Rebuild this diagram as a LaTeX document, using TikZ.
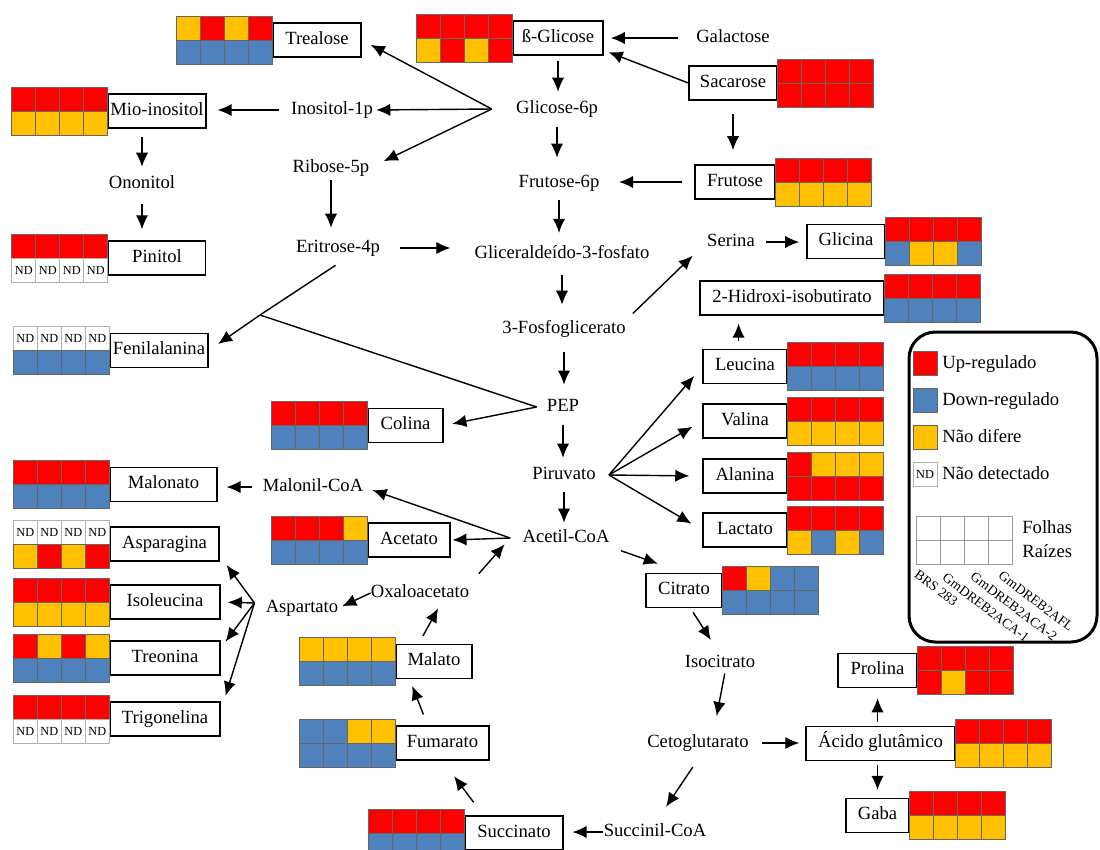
\documentclass[tikz,border=0pt]{standalone}
\usepackage{fontspec}
\setmainfont{Liberation Serif}
\usetikzlibrary{positioning,calc,arrows.meta}
\definecolor{upred}{RGB}{255,0,0}
\definecolor{downblue}{RGB}{79,129,189}
\definecolor{samegold}{RGB}{255,192,0}
\tikzset{met/.style={inner sep=0pt,text height=7.3pt,text depth=2.3pt,font=\fontsize{10.6}{12}\selectfont}}
\tikzset{box/.style={met,draw,line width=0.8pt,minimum height=6.8mm}}
\tikzset{boxw/.style={minimum width=#1*0.2mm}}
\tikzset{flow/.style={-{Latex[length=8pt,width=7pt]},line width=0.8pt}}
\tikzset{cell/.style={draw=black!60,line width=0.4pt,minimum width=4.8mm,minimum height=4.8mm,inner sep=0pt}}
\tikzset{R/.style={fill=upred},B/.style={fill=downblue},Y/.style={fill=samegold},
  N/.style={fill=white,draw=black!30,label={[font=\fontsize{7}{7}\selectfont,inner sep=0pt]center:ND}}}
\tikzset{geno/.style={inner sep=0pt,font=\fontsize{7.8}{9}\selectfont,rotate=-37,anchor=north west}}
\newcommand{\cellsleft}[2]{%
  \foreach \c [count=\i from 0] in {#2}{%
    \pgfmathtruncatemacro{\hmcol}{mod(\i,4)}%
    \pgfmathtruncatemacro{\hmrow}{\i/4}%
    \node[cell,\c] (#1-c\i) at ($(#1.west)+(\hmcol*24-84,\hmrow*24-12)$) {};
  }}
\newcommand{\cellsright}[2]{%
  \foreach \c [count=\i from 0] in {#2}{%
    \pgfmathtruncatemacro{\hmcol}{mod(\i,4)}%
    \pgfmathtruncatemacro{\hmrow}{\i/4}%
    \node[cell,\c] (#1-c\i) at ($(#1.east)+(\hmcol*24+12,\hmrow*24-12)$) {};
  }}

\begin{document}
\begin{tikzpicture}[x=0.2mm,y=-0.2mm]
\useasboundingbox (0,0) rectangle (1100,849);

% metabolitos sem medida
\node[met] (galac) at (733,38) {Galactose};
\node[met] (g6p) at (557,109) {Glicose-6p};
\node[met] (ino) at (332,110) {Inositol-1p};
\node[met] (rib) at (331,168) {Ribose-5p};
\node[met] (onon) at (142,184) {Ononitol};
\node[met] (f6p) at (559,183) {Frutose-6p};
\node[met] (ery) at (338,248) {Eritrose-4p};
\node[met] (gap) at (562,254) {Gliceraldeído-3-fosfato};
\node[met] (serina) at (731,242) {Serina};
\node[met] (pga) at (564,329) {3-Fosfoglicerato};
\node[met] (pep) at (563,407) {PEP};
\node[met] (pir) at (564,475) {Piruvato};
\node[met] (acoa) at (566,538) {Acetil-CoA};
\node[met] (malcoa) at (313,487) {Malonil-CoA};
\node[met] (oaa) at (420,593) {Oxaloacetato};
\node[met] (asp) at (302,608) {Aspartato};
\node[met] (isocit) at (720,663) {Isocitrato};
\node[met] (ceto) at (698,743) {Cetoglutarato};
\node[met] (succoa) at (655,832) {Succinil-CoA};

% metabolitos medidos
\node[box,boxw=88] (trealose) at (317,40) {Trealose};
\node[box,boxw=90] (glicose) at (558,38) {ß-Glicose};
\node[box,boxw=88] (sacarose) at (733,83) {Sacarose};
\node[box,boxw=98] (mio) at (157,111) {Mio-inositol};
\node[box,boxw=80] (frutose) at (735,182) {Frutose};
\node[box,boxw=97] (pinitol) at (157,258) {Pinitol};
\node[box,boxw=78] (glicina) at (846,241.5) {Glicina};
\node[box,boxw=184] (hib) at (792,298) {2-Hidroxi-isobutirato};
\node[box,boxw=98] (fenil) at (159,350.5) {Fenilalanina};
\node[box,boxw=84] (leucina) at (745,366.5) {Leucina};
\node[box,boxw=84] (valina) at (745,421) {Valina};
\node[box,boxw=84] (alanina) at (745,476) {Alanina};
\node[box,boxw=84] (lactato) at (745,530) {Lactato};
\node[box,boxw=75] (colina) at (405.5,425.5) {Colina};
\node[box,boxw=107] (malonato) at (163.5,484.5) {Malonato};
\node[box,boxw=82] (acetato) at (409,540) {Acetato};
\node[box,boxw=109] (asparagina) at (164.5,544) {Asparagina};
\node[box,boxw=110] (isoleucina) at (165,602) {Isoleucina};
\node[box,boxw=110] (treonina) at (165,658) {Treonina};
\node[box,boxw=110] (trigonelina) at (165,719) {Trigonelina};
\node[box,boxw=76] (citrato) at (684,590.5) {Citrato};
\node[box,boxw=76] (malato) at (434,661.5) {Malato};
\node[box,boxw=93] (fumarato) at (442.5,743) {Fumarato};
\node[box,boxw=98] (succinato) at (514,833) {Succinato};
\node[box,boxw=79] (prolina) at (877.5,670.5) {Prolina};
\node[box,boxw=149] (acido) at (880.5,743.5) {Ácido glutâmico};
\node[box,boxw=63] (gaba) at (877.5,815.5) {Gaba};

% Folhas (linha de cima) e Raízes (linha de baixo)
\cellsleft{trealose}{Y,R,Y,R,B,B,B,B}
\cellsleft{glicose}{R,R,R,R,Y,R,Y,R}
\cellsright{sacarose}{R,R,R,R,R,R,R,R}
\cellsleft{mio}{R,R,R,R,Y,Y,Y,Y}
\cellsright{frutose}{R,R,R,R,Y,Y,Y,Y}
\cellsleft{pinitol}{R,R,R,R,N,N,N,N}
\cellsright{glicina}{R,R,R,R,B,Y,Y,B}
\cellsright{hib}{R,R,R,R,B,B,B,B}
\cellsleft{fenil}{N,N,N,N,B,B,B,B}
\cellsright{leucina}{R,R,R,R,B,B,B,B}
\cellsright{valina}{R,R,R,R,Y,Y,Y,Y}
\cellsright{alanina}{R,Y,Y,Y,R,R,R,R}
\cellsright{lactato}{R,R,R,R,Y,B,Y,B}
\cellsleft{colina}{R,R,R,R,B,B,B,B}
\cellsleft{malonato}{R,R,R,R,B,B,B,B}
\cellsleft{acetato}{R,R,R,Y,B,B,B,B}
\cellsleft{asparagina}{N,N,N,N,Y,R,Y,R}
\cellsleft{isoleucina}{R,R,R,R,Y,Y,Y,Y}
\cellsleft{treonina}{R,Y,R,Y,B,B,B,B}
\cellsleft{trigonelina}{R,R,R,R,N,N,N,N}
\cellsright{citrato}{R,Y,B,B,B,B,B,B}
\cellsleft{malato}{Y,Y,Y,Y,B,B,B,B}
\cellsleft{fumarato}{B,B,Y,Y,B,B,B,B}
\cellsleft{succinato}{R,R,R,R,B,B,B,B}
\cellsright{prolina}{R,R,R,R,R,Y,R,R}
\cellsright{acido}{R,R,R,R,Y,Y,Y,Y}
\cellsright{gaba}{R,R,R,R,Y,Y,Y,Y}

\coordinate (fanG) at ($(g6p.west)+(-24,0)$);
\coordinate (fanP) at ($(pep.west)+(-10,0)$);
\coordinate (fanR) at ($(pir.east)+(13,0)$);
\coordinate (fanA) at ($(acoa.west)+(-12,0)$);
\coordinate (fanS) at ($(asp.west)+(-11,-5)$);
\coordinate (fork) at (260,315);

\draw[flow,shorten <=10pt,shorten >=4pt] (galac) -- (glicose);
\draw[flow,shorten >=3pt] (sacarose.west) -- (glicose.-15);
\draw[flow,shorten <=7.4pt,shorten >=8pt] (sacarose.south) -- (sacarose.south |- frutose.north);
\draw[flow,shorten <=6.8pt,shorten >=11pt] (frutose.west) -- (frutose.west -| f6p.east);
\draw[flow,shorten <=2.8pt,shorten >=4.8pt] (glicose.south) -- (glicose.south |- g6p.north);
\draw[flow,shorten <=5.4pt,shorten >=9.4pt] (g6p.south) -- (g6p.south |- f6p.north);
\draw[flow,shorten <=4.8pt,shorten >=7pt] (f6p.south) -- (f6p.south |- gap.north);
\draw[flow,shorten <=7pt,shorten >=8.8pt] (gap.south) -- (gap.south |- pga.north);
\draw[flow,shorten <=8.2pt,shorten >=7.7pt] (pga.south) -- (pga.south |- pep.north);
\draw[flow,shorten <=5.4pt,shorten >=4.8pt] (pep.south) -- (pep.south |- pir.north);
\draw[flow,shorten <=4.8pt,shorten >=3.7pt] (pir.south) -- (pir.south |- acoa.north);

\draw[flow,shorten >=5.8pt] (fanG) -- (trealose.east);
\draw[flow,shorten >=1.7pt] (fanG) -- (ino.east);
\draw[flow,shorten >=8.9pt] (fanG) -- (rib.east);
\draw[flow,shorten <=6.8pt,shorten >=6.2pt] (ino.west) -- (ino.west -| mio.east);
\draw[flow,shorten <=4.5pt,shorten >=4.8pt] (mio.south -| onon.north) -- (onon.north);
\draw[flow,shorten <=6.5pt,shorten >=6.2pt] (onon.south) -- (onon.south |- pinitol.north);
\draw[flow,shorten <=2pt,shorten >=6.5pt] (rib.south) -- (rib.south |- ery.north);
\draw[flow,shorten <=11.3pt,shorten >=13.6pt] (ery.east) -- (ery.east -| gap.west);

\draw[line width=0.8pt,shorten <=8.8pt] (ery.-40) -- (fork);
\draw[flow,shorten >=6.5pt] (fork) -- (fenil.east);
\draw[line width=0.8pt] (fork) -- (fanP);
\draw[flow,shorten >=5pt] (fanP) -- (colina.east);

\draw[flow,shorten <=5.5pt,shorten >=11.2pt] (pga.north east) -- (serina.west);
\draw[flow,shorten <=6.2pt,shorten >=4pt] (serina.east) -- (serina.east -| glicina.west);

\draw[flow,shorten >=7pt] (fanR) -- (leucina.west);
\draw[flow,shorten >=6.5pt] (fanR) -- (valina.west);
\draw[flow,shorten >=7.4pt] (fanR) -- (alanina.west);
\draw[flow,shorten >=7.2pt] (fanR) -- (lactato.west);
\draw[flow,shorten <=4.5pt,shorten >=4.5pt] (leucina.110) -- (leucina.110 |- hib.south);

\draw[flow,shorten >=5.4pt] (fanA) -- (malcoa.east);
\draw[flow,shorten >=1pt] (fanA) -- (acetato.east);
\draw[flow,shorten <=6pt,shorten >=5pt] (malcoa.west) -- (malcoa.west -| malonato.east);
\draw[flow,shorten <=6.8pt,shorten >=15.8pt] (acoa.south east) -- (citrato.north);
\draw[flow,shorten <=2.8pt,shorten >=9.6pt] (citrato.-70) -- (isocit.north);
\draw[flow,shorten <=1pt,shorten >=10.5pt] (isocit.-60) -- (ceto.30);
\draw[flow,shorten <=10.5pt,shorten >=11.2pt] (ceto.-60) -- (succoa.north);
\draw[flow,shorten <=7.4pt,shorten >=3.4pt] (ceto.east) -- (ceto.east -| acido.west);
\draw[flow,shorten <=2.3pt,shorten >=5.7pt] (prolina.south |- acido.north) -- (prolina.south);
\draw[flow,shorten <=2.3pt,shorten >=4.5pt] (gaba.north |- acido.south) -- (gaba.north);
\draw[flow,shorten >=5pt] (succoa.west) -- (succoa.west -| succinato.east);
\draw[flow,shorten <=9.2pt,shorten >=11pt] (succinato.150) -- (fumarato.south);
\draw[flow,shorten <=6.6pt,shorten >=4.1pt] (fumarato.130) -- (malato.216);
\draw[flow,shorten <=5pt,shorten >=4.2pt] (malato.131) -- (oaa.-22);
\draw[flow,shorten <=8pt,shorten >=4.8pt] (oaa.north east) -- (fanA);
\draw[flow,shorten >=2.3pt] (oaa.west) -- (asp.east);

\draw[flow,shorten >=6.6pt] (fanS) -- (asparagina.-12);
\draw[flow,shorten >=4pt] (fanS) -- (isoleucina.east);
\draw[flow,shorten >=4.6pt] (fanS) -- (treonina.10);
\draw[flow,shorten >=9.2pt] (fanS) -- (trigonelina.8);

% legenda
\draw[line width=1.7pt,rounded corners=15pt] (909,332) rectangle (1097,642);
\node[cell,R] (key-up) at (925,363) {};
\node[cell,B] (key-down) at (925,400) {};
\node[cell,Y] (key-same) at (925,437) {};
\node[cell,N] (key-nd) at (925,474) {};
\node[met,anchor=west] (key-up-t) at (942,364) {Up-regulado};
\node[met,anchor=west] (key-down-t) at (942,401) {Down-regulado};
\node[met,anchor=west] (key-same-t) at (942,438) {Não difere};
\node[met,anchor=west] (key-nd-t) at (942,475) {Não detectado};
\foreach \i in {0,...,3}
  \foreach \j in {0,1}
    \node[cell,draw=black!40] (key-\i-\j) at (928+\i*24,528+\j*24) {};
\node[met,anchor=west] (key-leaf) at (1022,529) {Folhas};
\node[met,anchor=west] (key-root) at (1022,553) {Raízes};
\node[geno] (g-brs) at (919,569) {BRS 283};
\node[geno] (g-aca1) at (947,572) {GmDREB2ACA-1};
\node[geno] (g-aca2) at (975,571) {GmDREB2ACA-2};
\node[geno] (g-afl) at (1003,570) {GmDREB2AFL};
\end{tikzpicture}
\end{document}
